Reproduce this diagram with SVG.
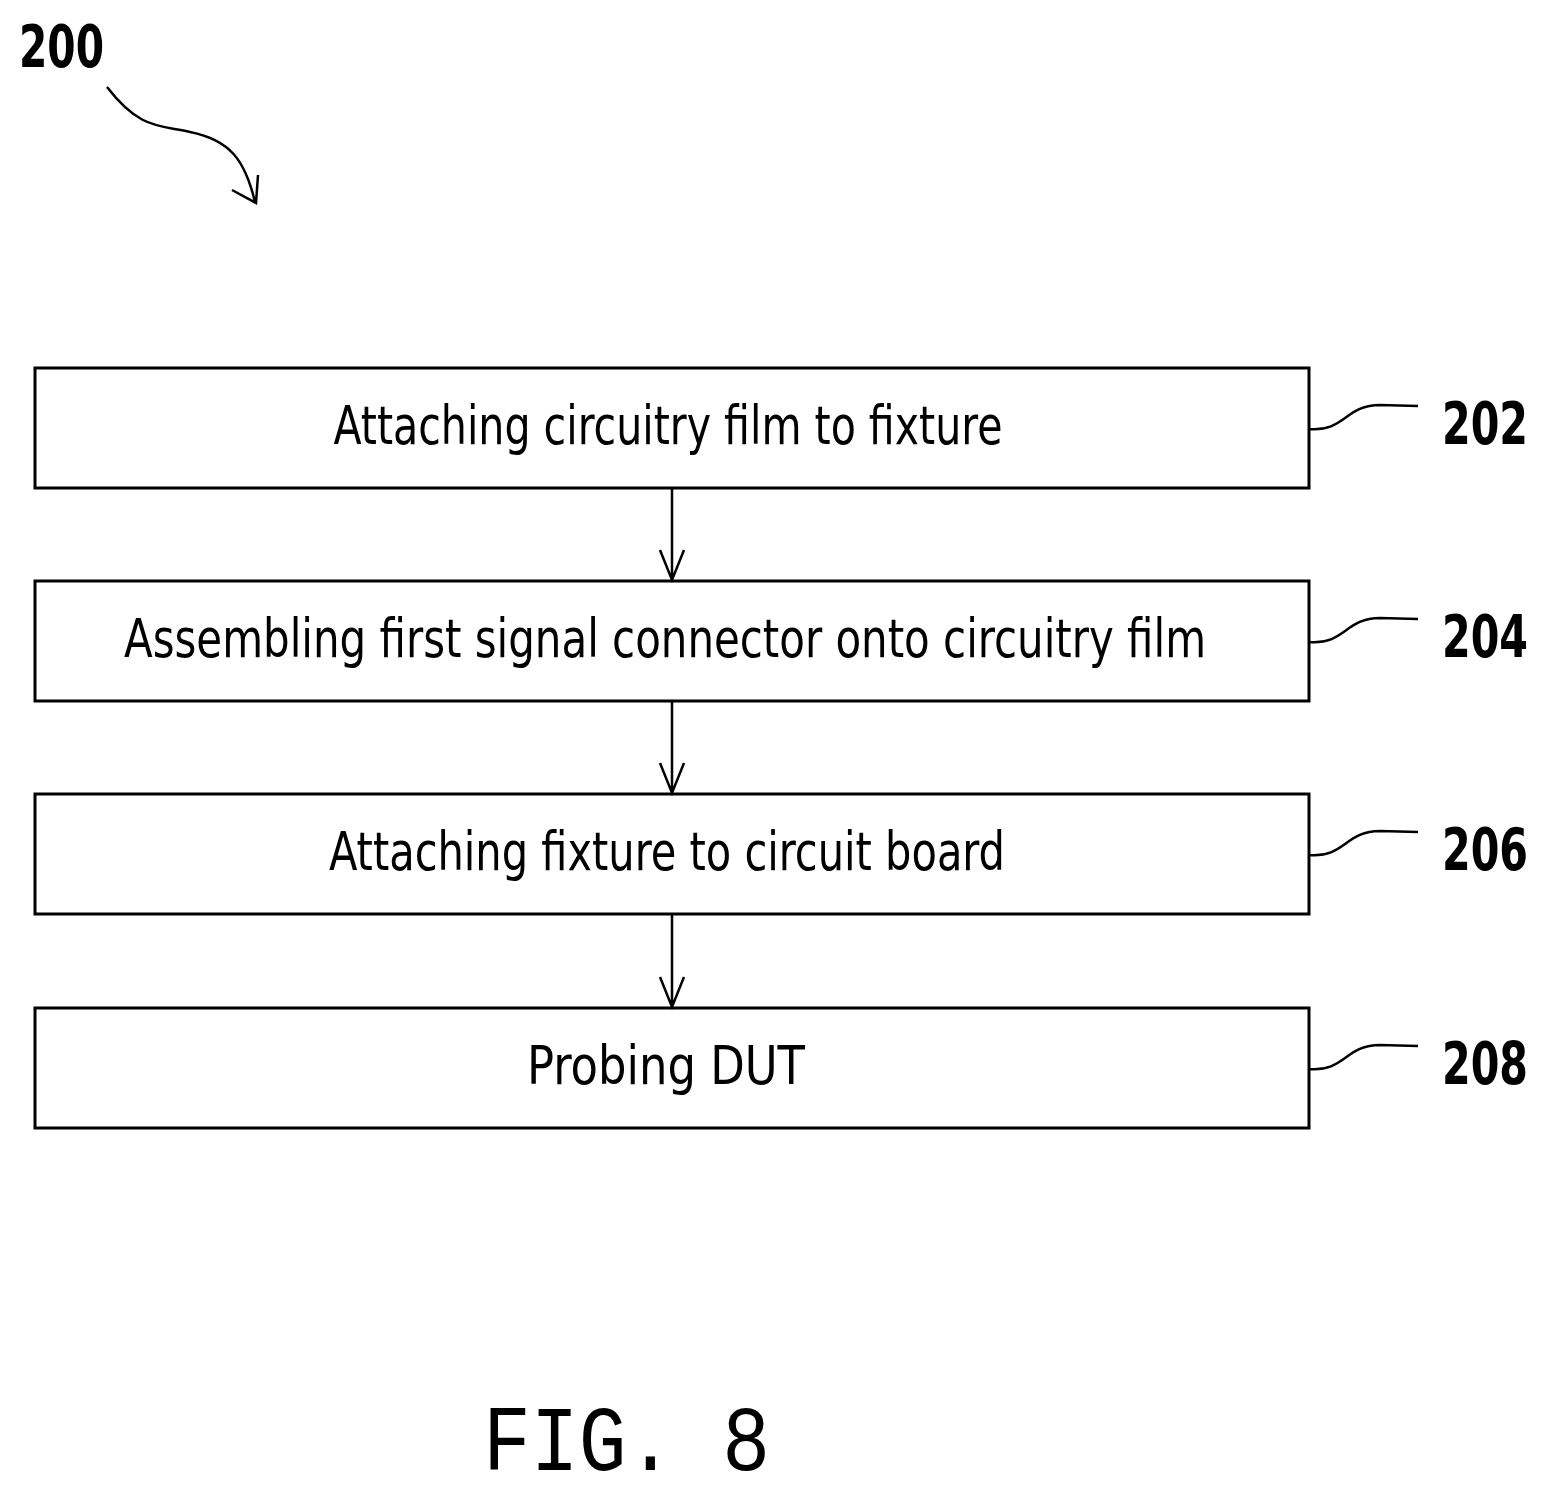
<svg xmlns="http://www.w3.org/2000/svg" width="1549" height="1495" viewBox="0 0 1549 1495">
<style>
.box{fill:#fff;stroke:#000;stroke-width:3}
.t{font-family:"Liberation Sans Narrow","DejaVu Sans Condensed","Liberation Sans",sans-serif;font-stretch:condensed;font-size:54px;text-anchor:middle}
.n{font-family:"Liberation Sans Narrow","DejaVu Sans Condensed","Liberation Sans",sans-serif;font-stretch:condensed;font-weight:bold;font-size:58px}
.c{fill:none;stroke:#000;stroke-width:2.5}
</style>
<rect width="1549" height="1495" fill="#fff"/>
<text class="n" x="19" y="67" textLength="85" lengthAdjust="spacingAndGlyphs">200</text>
<g id="n202"><rect class="box" x="35" y="368" width="1274" height="120"/><text class="t" x="668" y="444" textLength="669" lengthAdjust="spacingAndGlyphs">Attaching circuitry film to fixture</text></g>
<g id="n204"><rect class="box" x="35" y="581" width="1274" height="120"/><text class="t" x="665" y="657" textLength="1082" lengthAdjust="spacingAndGlyphs">Assembling first signal connector onto circuitry film</text></g>
<g id="n206"><rect class="box" x="35" y="794" width="1274" height="120"/><text class="t" x="667" y="870" textLength="676" lengthAdjust="spacingAndGlyphs">Attaching fixture to circuit board</text></g>
<g id="n208"><rect class="box" x="35" y="1008" width="1274" height="120"/><text class="t" x="666" y="1084" textLength="278" lengthAdjust="spacingAndGlyphs">Probing DUT</text></g>
<g id="labels">
<text class="n" x="1442" y="444" textLength="86" lengthAdjust="spacingAndGlyphs">202</text>
<text class="n" x="1442" y="657" textLength="86" lengthAdjust="spacingAndGlyphs">204</text>
<text class="n" x="1442" y="870" textLength="86" lengthAdjust="spacingAndGlyphs">206</text>
<text class="n" x="1442" y="1084" textLength="86" lengthAdjust="spacingAndGlyphs">208</text>
</g>
<g id="connectors">
<path class="c" d="M107 87 C140 130 160 125 190 132 C230 140 245 160 255 202 M232 190 L256 203 L258 175"/>
<path class="c" d="M672 488 V580 M660 550 L672 580 L684 550"/>
<path class="c" d="M672 701 V793 M660 763 L672 793 L684 763"/>
<path class="c" d="M672 914 V1007 M660 977 L672 1007 L684 977"/>
<path class="c" d="M1309 429 C1345 432 1345 405 1380 405 L1418 406"/>
<path class="c" d="M1309 642 C1345 645 1345 618 1380 618 L1418 619"/>
<path class="c" d="M1309 855 C1345 858 1345 831 1380 831 L1418 832"/>
<path class="c" d="M1309 1069 C1345 1072 1345 1045 1380 1045 L1418 1046"/>
</g>
<text x="483" y="1470" font-family="Liberation Mono,monospace" font-size="92" textLength="287" lengthAdjust="spacingAndGlyphs">FIG. 8</text>
</svg>
